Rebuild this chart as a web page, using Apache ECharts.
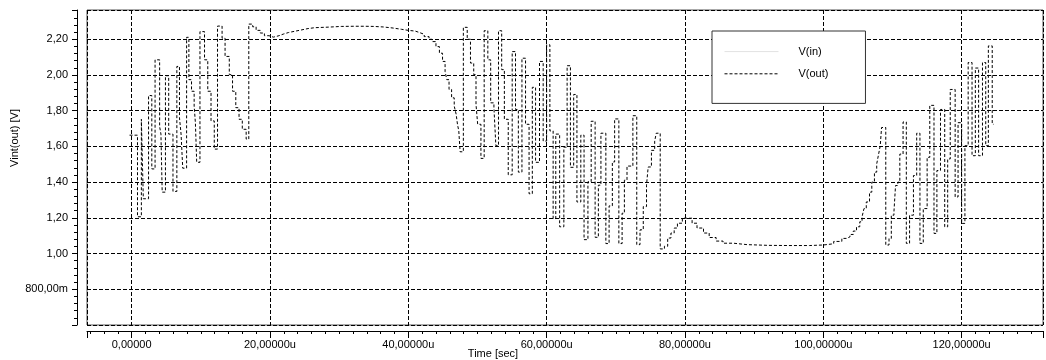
<!DOCTYPE html>
<html><head><meta charset="utf-8">
<script src="https://cdn.jsdelivr.net/npm/echarts@6/dist/echarts.min.js"></script>
<style>html,body{margin:0;padding:0;background:#fff}#c{width:1046px;height:360px}</style>
</head><body><div id="c"></div>
<script>
// Time in microseconds
const times = [-0.3,0.85,1.41,1.69,2.45,2.92,3.39,4.05,4.24,4.42,4.89,5.36,5.98,6.54,6.92,7.15,7.39,7.95,8.28,8.66,9.04,9.22,9.41,9.88,10.54,11.01,11.48,11.95,12.42,13.08,13.51,14.12,14.59,15.06,15.53,16.0,16.56,16.94,17.5,18.0,18.6,19.2,19.86,20.5,21.3,22.0,22.7,23.6,24.5,25.5,26.5,28.4,30.3,32.2,33.6,35.0,36.4,37.8,39.0,40.0,41.0,41.6,42.3,43.0,43.44,44.0,44.5,44.95,45.32,45.56,45.89,46.26,46.64,46.92,47.11,47.3,47.49,47.96,48.52,48.99,49.46,49.79,50.03,50.5,50.97,51.5,51.91,52.38,52.66,53.04,53.5,53.89,54.45,55.02,55.5,55.91,56.43,56.95,57.46,57.93,58.4,58.97,59.5,60.0,60.47,60.94,61.32,61.88,62.49,62.96,63.44,63.91,64.38,64.94,65.41,65.97,66.44,67.01,67.48,67.85,68.56,69.03,69.5,69.83,70.44,70.91,71.24,71.62,72.47,73.03,73.5,73.97,74.44,74.68,75.15,75.62,75.85,76.42,77.03,77.5,77.97,78.44,78.91,79.62,80.32,81.03,81.74,82.68,83.5,84.5,85.5,87.0,89.0,92.0,95.0,98.0,100.0,101.5,102.68,103.39,103.86,104.33,104.8,105.27,105.6,105.88,106.21,106.68,107.01,107.39,107.72,107.95,108.23,108.42,109.03,109.5,109.83,110.21,110.44,110.77,111.06,111.53,112.0,112.47,113.03,113.5,113.97,114.45,115.01,115.39,116.0,116.42,116.94,117.55,117.98,118.35,119.06,119.48,120.0,120.47,120.94,121.5,121.98,122.45,123.01,123.48,123.86,124.42,124.6];
// V(out) in volts
const vout = [1.663,1.206,1.752,1.307,1.885,1.474,2.085,1.711,1.669,1.344,1.996,1.669,1.348,2.048,1.761,1.669,1.478,2.211,1.974,1.909,1.826,1.733,1.511,2.243,2.085,1.909,1.743,1.585,2.274,2.206,2.104,2.002,1.909,1.817,1.752,1.696,1.641,2.285,2.27,2.25,2.235,2.22,2.212,2.22,2.23,2.238,2.245,2.252,2.26,2.265,2.268,2.272,2.273,2.273,2.272,2.269,2.263,2.256,2.25,2.246,2.238,2.228,2.215,2.2,2.187,2.159,2.122,2.076,2.02,1.974,1.919,1.872,1.826,1.78,1.724,1.687,1.57,2.267,2.2,2.067,2.002,1.835,1.724,1.533,2.248,2.085,1.844,1.817,1.604,2.248,2.03,1.752,1.441,2.131,1.807,1.456,2.094,1.724,1.335,1.931,1.511,2.076,1.63,2.169,1.687,1.196,1.669,1.15,1.596,2.052,1.483,1.891,1.289,1.663,1.078,1.402,1.741,1.091,1.383,1.674,1.056,1.267,1.513,1.754,1.056,1.226,1.411,1.49,1.772,1.05,1.133,1.263,1.383,1.485,1.578,1.63,1.674,1.026,1.041,1.087,1.115,1.143,1.17,1.198,1.198,1.17,1.143,1.115,1.09,1.07,1.058,1.05,1.046,1.045,1.045,1.048,1.055,1.068,1.085,1.094,1.107,1.126,1.15,1.178,1.206,1.252,1.289,1.344,1.4,1.456,1.502,1.548,1.604,1.706,1.048,1.085,1.215,1.233,1.381,1.4,1.557,1.737,1.057,1.215,1.437,1.674,1.057,1.252,1.539,1.83,1.113,1.465,1.807,1.15,1.53,1.919,1.317,1.733,1.169,1.604,2.07,1.548,2.039,1.548,2.07,1.604,2.163,1.724,1.724];
// V(in) is not visible in the plot; legend entry only
const vin = [];

const seriesNames = ['V(in)', 'V(out)'];
const xTickValues = [0, 20, 40, 60, 80, 100, 120];
const xTickLabels = ['0,00000', '20,00000u', '40,00000u', '60,00000u', '80,00000u', '100,00000u', '120,00000u'];
const yTickValues = [0.8, 1.0, 1.2, 1.4, 1.6, 1.8, 2.0, 2.2];
const yTickLabels = ['800,00m', '1,00', '1,20', '1,40', '1,60', '1,80', '2,00', '2,20'];
const xAxisName = 'Time [sec]';
const yAxisName = 'Vint(out) [V]';

const FONT = '"Liberation Sans", Arial, sans-serif';
const X_MIN = -6.45, X_MAX = 131.76;

const xMinorTicks = [];
for (let v = -6; v <= 130; v += 2) { if (v % 20 !== 0) xMinorTicks.push(v); }

function lookup(values, labels, v) {
  for (let i = 0; i < values.length; i++) if (Math.abs(values[i] - v) < 1e-6) return labels[i];
  return '';
}

const chart = echarts.init(document.getElementById('c'), null, { renderer: 'canvas' });
chart.setOption({
  animation: false,
  backgroundColor: '#fff',
  grid: { left: 87, right: -20, top: 10, bottom: 35, show: true, borderColor: '#555', borderWidth: 1, backgroundColor: 'transparent' },
  legend: {
    data: seriesNames, orient: 'vertical', left: 712, top: 31,
    itemWidth: 54, itemHeight: 14, itemGap: 11,
    padding: [15, 37, 24, 12],
    borderColor: '#333', borderWidth: 1, backgroundColor: '#fff',
    itemStyle: { opacity: 0, borderWidth: 0 },
    lineStyle: { width: 1 },
    textStyle: { fontSize: 11, fontFamily: FONT, color: '#000', padding: [0, 0, 0, 15] }
  },
  xAxis: [{
    type: 'value', min: X_MIN, max: X_MAX, splitNumber: 7, position: 'bottom', offset: 6,
    axisLine: { show: true, onZero: false, lineStyle: { color: '#000', width: 1 } },
    axisTick: { show: true, length: 7, lineStyle: { color: '#000' } },
    axisLabel: { margin: 8, fontSize: 11, fontFamily: FONT, color: '#000', formatter: v => lookup(xTickValues, xTickLabels, v) },
    splitLine: { show: true, lineStyle: { color: '#000', width: 1, type: [4, 2] } }
  }, {
    type: 'value', min: X_MIN, max: X_MAX, position: 'bottom', offset: 6,
    axisLine: { show: false, onZero: false },
    axisTick: { show: true, length: 3, customValues: xMinorTicks, lineStyle: { color: '#000' } },
    axisLabel: { show: false },
    splitLine: { show: false }
  }],
  yAxis: {
    type: 'value', min: 0.6, max: 2.364, interval: 0.2, position: 'left', offset: 10,
    axisLine: { show: true, onZero: false, lineStyle: { color: '#000', width: 1 } },
    axisTick: { show: true, length: 5, lineStyle: { color: '#000' } },
    minorTick: { show: true, splitNumber: 5, length: 3, lineStyle: { color: '#000' } },
    axisLabel: { margin: 9, fontSize: 11, fontFamily: FONT, color: '#000', formatter: v => lookup(yTickValues, yTickLabels, v) },
    splitLine: { show: true, lineStyle: { color: '#000', width: 1, type: [4, 2] } }
  },
  graphic: [
    { type: 'text', x: 15, y: 138, rotation: Math.PI / 2, style: { text: yAxisName, font: '11px ' + FONT, fill: '#000', align: 'center', verticalAlign: 'middle' } },
    { type: 'text', x: 493, y: 354, style: { text: xAxisName, font: '11px ' + FONT, fill: '#000', align: 'center', verticalAlign: 'middle' } }
  ],
  series: [{
    name: seriesNames[0], type: 'line', data: vin.map(p => p), symbol: 'none', showSymbol: false,
    lineStyle: { color: '#e2e2e2', width: 1, type: 'solid' }, itemStyle: { color: '#e2e2e2' }
  }, {
    name: seriesNames[1], type: 'line', step: 'end', symbol: 'none', showSymbol: false,
    data: times.map((t, i) => [t, vout[i]]),
    lineStyle: { color: '#000', width: 1, type: [3, 2] }, itemStyle: { color: '#000' }
  }]
});
</script></body></html>
